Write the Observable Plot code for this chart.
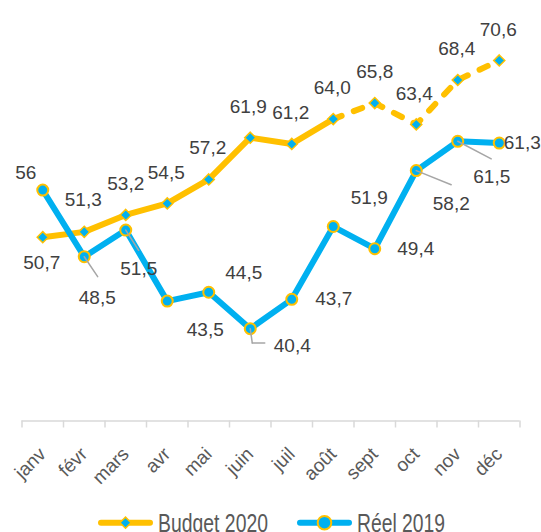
<!DOCTYPE html>
<html>
<head>
<meta charset="utf-8">
<script src="https://cdn.jsdelivr.net/npm/d3@7"></script>
<script src="https://cdn.jsdelivr.net/npm/@observablehq/plot@0.6"></script>
<style>
  body { margin: 0; background: #ffffff; }
  #wrap { position: relative; width: 541px; height: 532px; overflow: hidden; font-family: "Liberation Sans", Arial, sans-serif; }
  #chart { position: absolute; left: 0; top: 0; }
  #legend { position: absolute; left: 0; top: 500px; }
</style>
</head>
<body>
<div id="wrap">
  <div id="chart"></div>
  <svg id="legend" width="541" height="32"></svg>
</div>
<script>
// ---- data ----
const months = ["janv", "févr", "mars", "avr", "mai", "juin", "juil", "août", "sept", "oct", "nov", "déc"];
const budget2020 = [50.7, 51.3, 53.2, 54.5, 57.2, 61.9, 61.2, 64.0, 65.8, 63.4, 68.4, 70.6];
const reel2019 = [56, 48.5, 51.5, 43.5, 44.5, 40.4, 43.7, 51.9, 49.4, 58.2, 61.5, 61.3];
const budgetLabels = ["50,7", "51,3", "53,2", "54,5", "57,2", "61,9", "61,2", "64,0", "65,8", "63,4", "68,4", "70,6"];
const reelLabels = ["56", "48,5", "51,5", "43,5", "44,5", "40,4", "43,7", "51,9", "49,4", "58,2", "61,5", "61,3"];
const seriesNames = ["Budget 2020", "Réel 2019"];
const dashedFrom = "août"; // budget line is dashed from this month on

// ---- styling (label placement, pixels) ----
const budgetLabelOffsets = [[-1, 26], [-1, -32], [0, -31], [-1, -31], [-1, -32], [-2, -31], [-1, -31], [-1, -31], [0, -31], [-2, -31], [-1, -31], [-1, -31]];
const reelLabelOffsets = [[-17, -17], [13, 41], [13, 39], [38, 29], [35, -19], [42, 17], [42, 0], [36, -29], [41, 0], [35, 33], [34, 36], [23, 0]];
// leader lines: [month index, dx start, dy start, length, angle]
const leaders = [[1, 0, 0, 24, 146], [2, 0, 0, 24, 147.5], [5, 0, 0, 14.4, 172], [5, 2, 14.3, 12.5, 90], [9, 0, 0, 37.7, 112], [10, 0, 0, 37.8, 117.6]];
// legend layout: [swatch x1, swatch x2, text x, text width]
const legendLayout = [[98, 153, 158, 110], [297, 352, 357, 88]];

const YELLOW = "#FFC000";
const BLUE = "#00B0F0";

const budgetRows = months.map((m, i) => ({m, i: i + 0.5, v: budget2020[i], label: budgetLabels[i]}));
const reelRows = months.map((m, i) => ({m, i: i + 0.5, v: reel2019[i], label: reelLabels[i]}));
const cut = months.indexOf(dashedFrom);

const lineShape = {draw(context, l) { context.moveTo(0, 0); context.lineTo(0, -l); }};

const labelMarks = [];
budgetRows.forEach((d, k) => {
  labelMarks.push(Plot.text([d], {x: "i", y: "v", text: "label", dx: budgetLabelOffsets[k][0], dy: budgetLabelOffsets[k][1], fontSize: 19, fill: "#404040"}));
});
reelRows.forEach((d, k) => {
  labelMarks.push(Plot.text([d], {x: "i", y: "v", text: "label", dx: reelLabelOffsets[k][0], dy: reelLabelOffsets[k][1], fontSize: 19, fill: "#404040"}));
});
const leaderMarks = leaders.map(([k, dx, dy, len, ang]) =>
  Plot.vector([reelRows[k]], {x: "i", y: "v", length: len, rotate: ang, anchor: "start", shape: lineShape, dx, dy, stroke: "#A6A6A6", strokeWidth: 1.5})
);

const chart = Plot.plot({
  width: 541,
  height: 500,
  marginLeft: 21.5,
  marginRight: 21.5,
  marginTop: 0,
  marginBottom: 79.5,
  style: {fontFamily: "'Liberation Sans', Arial, sans-serif", background: "transparent", overflow: "visible"},
  x: {type: "linear", domain: [0, 12], axis: null, label: null},
  y: {domain: [30, 75], range: [420.5, 20.9], axis: null, label: null},
  marks: [
    Plot.ruleY([30], {stroke: "#D9D9D9", strokeWidth: 1.5}),
    Plot.axisX({ticks: d3.range(months.length + 1), tickSize: 7, tickFormat: () => "", label: null, stroke: "#D9D9D9", strokeWidth: 1.5}),
    Plot.axisX({ticks: budgetRows.map(d => d.i), tickFormat: v => months[Math.floor(v)], tickSize: 0, tickPadding: 30, tickRotate: -45, label: null, fontSize: 19, color: "#595959", fill: "#595959"}),
    Plot.line(budgetRows.slice(0, cut + 1), {x: "i", y: "v", stroke: YELLOW, strokeWidth: 6, strokeLinejoin: "round"}),
    Plot.line(budgetRows.slice(cut), {x: "i", y: "v", stroke: YELLOW, strokeWidth: 6, strokeLinejoin: "round", strokeLinecap: "round", strokeDasharray: "9,13"}),
    Plot.dot(budgetRows, {x: "i", y: "v", symbol: "diamond2", r: 5, fill: BLUE, stroke: YELLOW, strokeWidth: 1.5}),
    Plot.line(reelRows, {x: "i", y: "v", stroke: BLUE, strokeWidth: 6, strokeLinejoin: "round"}),
    Plot.dot(reelRows, {x: "i", y: "v", r: 5.5, fill: BLUE, stroke: YELLOW, strokeWidth: 2}),
    ...leaderMarks,
    ...labelMarks
  ]
});
document.getElementById("chart").append(chart);

// ---- legend ----
const legend = d3.select("#legend");
seriesNames.forEach((name, k) => {
  const [x1, x2, tx, tw] = legendLayout[k];
  const cx = (x1 + x2) / 2;
  legend.append("line").attr("x1", x1 + 3).attr("x2", x2 - 3).attr("y1", 22.7).attr("y2", 22.7)
    .attr("stroke", k === 0 ? YELLOW : BLUE).attr("stroke-width", 6).attr("stroke-linecap", "round");
  if (k === 0) {
    legend.append("path").attr("d", d3.symbol(d3.symbolDiamond2, Math.PI * 5 * 5)()).attr("transform", `translate(${cx},22.7)`)
      .attr("fill", BLUE).attr("stroke", YELLOW).attr("stroke-width", 1.5);
  } else {
    legend.append("circle").attr("cx", cx).attr("cy", 22.7).attr("r", 6.8)
      .attr("fill", BLUE).attr("stroke", YELLOW).attr("stroke-width", 2);
  }
  legend.append("text").attr("x", tx).attr("y", 31.5).attr("textLength", tw).attr("lengthAdjust", "spacingAndGlyphs")
    .attr("font-family", "'Liberation Sans', Arial, sans-serif").attr("font-size", 25).attr("fill", "#595959").text(name);
});
</script>
</body>
</html>
